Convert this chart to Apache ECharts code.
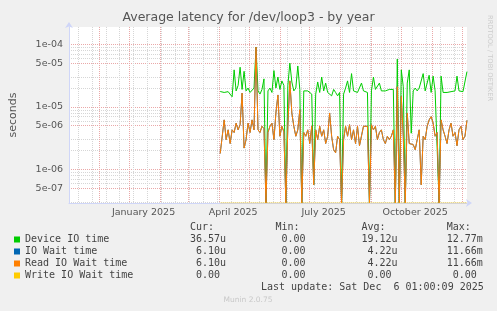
<!DOCTYPE html>
<html>
<head>
<meta charset="utf-8">
<script src="https://cdn.jsdelivr.net/npm/echarts@6/dist/echarts.min.js"></script>
<style>
html, body { margin: 0; padding: 0; background: #f0f0f0; }
#latency { width: 497px; height: 311px; }
</style>
</head>
<body>
<div id="latency"></div>
<script>
// one sample every 2 days, first one on 2 April 2025 (UTC)
var startDay = Date.UTC(2025, 3, 2);
var stepDays = 2;

// values in microseconds (0 = nothing, drawn on the floor)
var deviceIoUs = [
  17.6, 18.5, 17, 18, 17.5, 18.5, 14.5, 39, 18, 22,
  43, 19, 37, 18, 20, 17, 18, 20, 90, 18,
  16, 19, 28, 0, 18, 20, 17, 38, 20, 30,
  19, 26, 22, 0, 22, 50, 25, 18, 20, 45,
  19, 0, 18, 17.5, 18, 17, 16, 0.57, 16, 25,
  17, 30, 18, 24, 17, 18, 15, 19, 17, 15,
  17, 0, 16, 20, 26, 17, 34, 18, 19, 17,
  16, 24, 18, 19, 17, 0, 18, 30, 19, 18,
  24, 18, 19, 18, 18, 19, 18, 19, 0, 58,
  0, 39, 21, 0, 24, 39, 3.8, 18, 20, 18,
  20, 19, 34, 18, 17, 32, 17, 31, 18, 19,
  0, 31, 17, 18, 17, 18, 17.5, 17, 18, 31,
  18, 17, 17.5, 17, 36.57
];
var readWaitUs = [
  1.8, 1.8, 6.2, 3.0, 4.3, 2.6, 4.3, 3.9, 5.5, 4.3,
  5.2, 16.6, 2.2, 3.0, 5.5, 3.9, 6.2, 4.3, 90, 4.3,
  3.9, 4.9, 4.5, 0, 3.9, 4.9, 5.5, 3.0, 8.0, 15.5,
  3.4, 4.9, 4.0, 0, 4.9, 26, 8.0, 4.9, 3.4, 4.3,
  9.0, 0, 3.9, 3.4, 4.3, 2.6, 4.9, 0.57, 4.3, 3.0,
  4.9, 3.4, 4.3, 2.6, 3.4, 8.0, 3.4, 2.07, 1.85, 3.4,
  3.0, 0, 3.0, 4.9, 3.4, 5.2, 3.0, 4.3, 2.6, 4.9,
  2.4, 2.5, 4.9, 4.9, 4.9, 0, 5.2, 4.3, 4.9, 3.0,
  3.9, 4.3, 3.0, 2.6, 3.4, 3.0, 3.4, 4.3, 0, 21,
  0, 14.7, 3.4, 0, 8.0, 2.6, 2.6, 2.5, 2.07, 3.0,
  4.3, 0.57, 3.4, 3.0, 4.9, 6.2, 7.0, 5.5, 3.4, 3.9,
  0, 6.2, 4.3, 3.4, 2.6, 4.3, 5.5, 3.4, 3.9, 2.4,
  4.3, 4.9, 3.0, 3.4, 6.1
];
// IO wait equals read wait over the whole period (same cur/avg/max)
var ioWaitUs = readWaitUs;
var writeWaitDays = [Date.UTC(2025, 3, 2), Date.UTC(2025, 11, 6)];
var writeWaitUs = [0, 0];

var seriesNames = ['Device IO time', 'IO Wait time', 'Read IO Wait time', 'Write IO Wait time'];
var seriesColors = ['#00cc00', '#0066b3', '#ff8000', '#ffcc00'];
var curText = ['36.57u', ' 6.10u', ' 6.10u', ' 0.00'];
var minText = [' 0.00', ' 0.00', ' 0.00', ' 0.00'];
var avgText = ['19.12u', ' 4.22u', ' 4.22u', ' 0.00'];
var maxText = ['12.77m', '11.66m', '11.66m', ' 0.00'];

var xLabelDays = [Date.UTC(2025, 0, 15), Date.UTC(2025, 3, 15), Date.UTC(2025, 6, 15), Date.UTC(2025, 9, 15)];
var xLabelText = ['January 2025', 'April 2025', 'July 2025', 'October 2025'];
var yTicks = [5e-7, 1e-6, 5e-6, 1e-5, 5e-5, 1e-4];
var yTickText = ['5e-07', '1e-06', '5e-06', '1e-05', '5e-05', '1e-04'];

var FONT = 'DejaVu Sans';
var MONO = 'DejaVu Sans Mono';
var yMin = 2.92e-7, yMax = 1.886e-4;
var xMin = Date.UTC(2024, 10, 1, 1), xMax = Date.UTC(2025, 11, 6, 1);
var DAY = 864e5;

// grid positions: month starts (major) and every other sunday (minor)
var monthStarts = [];
for (var m = 11; m <= 23; m++) monthStarts.push(Date.UTC(2024, m, 1));
var fortnights = [];
for (var t = Date.UTC(2024, 10, 10); t < xMax; t += 14 * DAY) fortnights.push(t);
var yMinor = [];
[1e-7, 1e-6, 1e-5, 1e-4].forEach(function (d) {
  [2, 3, 6, 7, 8, 9].forEach(function (k) {
    var v = k * d;
    if (v > yMin && v < yMax) yMinor.push(v);
  });
});

function toPairs(vals) {
  return vals.map(function (v, i) {
    // zero cannot sit on a log axis: put it on the floor like rrdtool does
    return [startDay + i * stepDays * DAY, Math.max(v * 1e-6, yMin)];
  });
}

function lineSeries(idx, data) {
  return {
    name: seriesNames[idx],
    type: 'line',
    data: data,
    symbol: 'none',
    showSymbol: false,
    lineStyle: { width: 1, color: seriesColors[idx] },
    itemStyle: { color: seriesColors[idx] }
  };
}

var chart = echarts.init(document.getElementById('latency'));

var write = lineSeries(3, writeWaitUs.map(function (v, i) { return [writeWaitDays[i], Math.max(v * 1e-6, yMin)]; }));
write.lineStyle.opacity = 0.55;

var option = {
  backgroundColor: '#f0f0f0',
  animation: false,
  title: {
    text: 'Average latency for /dev/loop3 - by year',
    left: 'center', top: 11, padding: 0,
    textStyle: { fontFamily: FONT, fontSize: 12.5, fontWeight: 'normal', color: '#555', lineHeight: 14 }
  },
  grid: { left: 66, right: 30, top: 27, bottom: 108, show: true, backgroundColor: '#fff', borderWidth: 0 },
  legend: {
    orient: 'vertical', left: 14, top: 233.5, padding: 0,
    itemWidth: 6, itemHeight: 6, itemGap: 0, icon: 'rect',
    selectedMode: false,
    textStyle: { fontFamily: MONO, fontSize: 10, color: '#444', lineHeight: 12 },
    data: seriesNames
  },
  xAxis: [
    {
      type: 'value', min: xMin, max: xMax, scale: true,
      axisLine: { show: true, onZero: false, lineStyle: { color: '#cfd6f8', width: 1 }, symbol: ['none', 'arrow'], symbolSize: [6, 6], symbolOffset: [0, 5] },
      axisTick: { show: false, customValues: monthStarts },
      axisLabel: {
        customValues: xLabelDays,
        formatter: function (v) {
          for (var i = 0; i < xLabelDays.length; i++) if (Math.abs(xLabelDays[i] - v) < DAY) return xLabelText[i];
          return '';
        },
        fontFamily: FONT, fontSize: 9.5, color: '#555', margin: 5
      },
      splitLine: { show: true, lineStyle: { color: '#eaa8a8', width: 1, type: [1, 1] } }
    },
    {
      type: 'value', min: xMin, max: xMax, scale: true,
      axisLine: { show: false }, axisLabel: { show: false },
      axisTick: { show: false, customValues: fortnights },
      splitLine: { show: true, lineStyle: { color: '#d6d6d6', width: 1, type: [1, 1] } }
    }
  ],
  yAxis: [
    {
      type: 'log', logBase: 10, min: yMin, max: yMax,
      name: 'seconds', nameLocation: 'middle', nameGap: 50, nameRotate: 90,
      nameTextStyle: { fontFamily: FONT, fontSize: 11, color: '#555' },
      axisLine: { show: true, lineStyle: { color: '#cfd6f8', width: 1 }, symbol: ['none', 'arrow'], symbolSize: [6, 6], symbolOffset: [0, 5] },
      axisTick: { show: false, customValues: yTicks },
      axisLabel: {
        customValues: yTicks,
        formatter: function (v) {
          for (var i = 0; i < yTicks.length; i++) if (Math.abs(yTicks[i] / v - 1) < 0.01) return yTickText[i];
          return '';
        },
        fontFamily: FONT, fontSize: 9.5, color: '#555', margin: 6
      },
      splitLine: { show: true, lineStyle: { color: '#eaa8a8', width: 1, type: [1, 1] } }
    },
    {
      type: 'log', logBase: 10, min: yMin, max: yMax,
      axisLine: { show: false }, axisLabel: { show: false },
      axisTick: { show: false, customValues: yMinor },
      splitLine: { show: true, lineStyle: { color: '#d6d6d6', width: 1, type: [1, 1] } }
    }
  ],
  series: [
    lineSeries(0, toPairs(deviceIoUs)),
    lineSeries(1, toPairs(ioWaitUs)),
    lineSeries(2, toPairs(readWaitUs)),
    write
  ],
  graphic: [
    { type: 'text', x: 190, y: 221.5, style: { text: ['Cur:'].concat(curText).join('\n'), fontFamily: MONO, fontSize: 10, lineHeight: 12, fill: '#444', textVerticalAlign: 'top' } },
    { type: 'text', x: 275.5, y: 221.5, style: { text: ['Min:'].concat(minText).join('\n'), fontFamily: MONO, fontSize: 10, lineHeight: 12, fill: '#444', textVerticalAlign: 'top' } },
    { type: 'text', x: 361.5, y: 221.5, style: { text: ['Avg:'].concat(avgText).join('\n'), fontFamily: MONO, fontSize: 10, lineHeight: 12, fill: '#444', textVerticalAlign: 'top' } },
    { type: 'text', x: 446.7, y: 221.5, style: { text: ['Max:'].concat(maxText).join('\n'), fontFamily: MONO, fontSize: 10, lineHeight: 12, fill: '#444', textVerticalAlign: 'top' } },
    { type: 'text', x: 261, y: 287.5, style: { text: 'Last update: Sat Dec  6 01:00:09 2025', fontFamily: MONO, fontSize: 10, fill: '#444', textVerticalAlign: 'middle' } },
    { type: 'text', x: 248, y: 300, style: { text: 'Munin 2.0.75', fontFamily: FONT, fontSize: 7.5, fill: '#c8c8c8', textAlign: 'center', textVerticalAlign: 'middle' } },
    { type: 'text', x: 489.5, y: 15, rotation: -Math.PI / 2, style: { text: 'RRDTOOL / TOBI OETIKER', fontFamily: FONT, fontSize: 6.7, fill: '#cccccc', textAlign: 'left', textVerticalAlign: 'middle' } }
  ]
};

chart.setOption(option);
</script>
</body>
</html>
